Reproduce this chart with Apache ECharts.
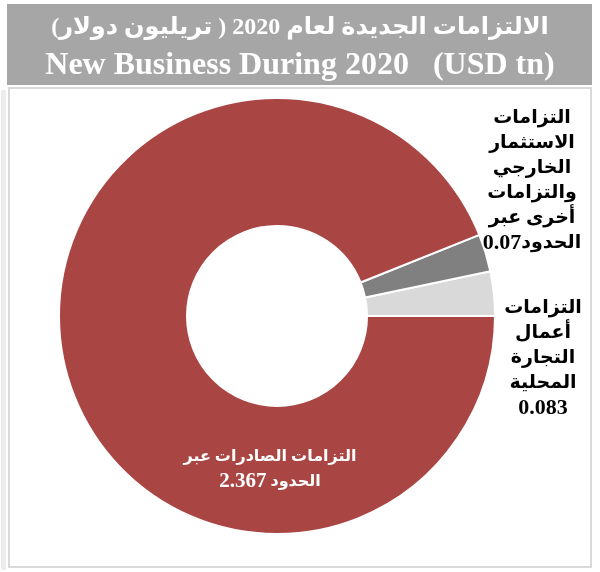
<!DOCTYPE html>
<html>
<head>
<meta charset="utf-8">
<script src="https://cdn.jsdelivr.net/npm/echarts@6/dist/echarts.min.js"></script>
<style>
html,body{margin:0;padding:0;background:#fff;}
#main{width:600px;height:572px;}
</style>
</head>
<body>
<div id="main"></div>
<script>
// ---- data ----
const titleAr = '\u202Bالالتزامات الجديدة لعام 2020 ( تريليون دولار)\u202C';
const titleEn = 'New Business During 2020   (USD tn)';
const categories = [
  'التزامات أعمال التجارة المحلية',
  'التزامات الاستثمار الخارجي والتزامات أخرى عبر الحدود',
  'التزامات الصادرات عبر الحدود'
];
const values = [0.083, 0.07, 2.367];
const labelHead = [
  'التزامات\nأعمال\nالتجارة\nالمحلية',
  'التزامات\nالاستثمار\nالخارجي\nوالتزامات\nأخرى عبر',
  'التزامات الصادرات عبر'
];
const labelTail = ['', 'الحدود', ' الحدود'];
const colors = ['#d9d9d9', '#808080', '#a94644'];

// ---- layout ----
const labelPos = [
  { x: 543, y: 358 },
  { x: 532, y: 181 },
  { x: 270, y: 469 }
];

const chart = echarts.init(document.getElementById('main'), null, { renderer: 'canvas' });
const serif = '"Liberation Serif", "DejaVu Sans", serif';

chart.setOption({
  animation: false,
  backgroundColor: '#ffffff',
  graphic: [
    { type: 'rect', z: -10, shape: { x: 7, y: 4, width: 585, height: 81 }, style: { fill: '#a6a6a6' } },
    { type: 'rect', z: -10, shape: { x: 9, y: 88, width: 582, height: 479 }, style: { fill: '#ffffff', stroke: '#d9d9d9', lineWidth: 2 } },
    { type: 'rect', z: -11, shape: { x: 1, y: 90, width: 5, height: 480 }, style: { fill: '#ececec' } }
  ],
  title: [
    {
      text: titleAr, left: 'center', top: 11,
      textStyle: { color: '#ffffff', fontSize: 24, fontWeight: 'bold', fontFamily: serif }
    },
    {
      text: titleEn, left: 'center', top: 45,
      textStyle: { color: '#ffffff', fontSize: 32, fontWeight: 'bold', fontFamily: serif }
    }
  ],
  series: [{
    type: 'pie',
    center: [277, 316],
    radius: [90, 218],
    startAngle: 0,
    clockwise: false,
    avoidLabelOverlap: false,
    itemStyle: { borderColor: '#ffffff', borderWidth: 2 },
    labelLine: { show: false },
    emphasis: { disabled: true },
    label: {
      show: true,
      position: 'outside',
      color: '#000',
      fontSize: 19,
      fontWeight: 'bold',
      lineHeight: 25,
      fontFamily: serif,
      align: 'center',
      formatter: p => labelHead[p.dataIndex] + '\n{n|' + p.value + '}' + labelTail[p.dataIndex],
      rich: {
        n: { fontSize: 22, fontWeight: 'bold', fontFamily: serif, lineHeight: 25 }
      }
    },
    labelLayout: p => ({
      x: labelPos[p.dataIndex].x,
      y: labelPos[p.dataIndex].y,
      align: 'center',
      verticalAlign: 'middle'
    }),
    data: values.map((v, i) => ({
      name: categories[i],
      value: v,
      itemStyle: { color: colors[i] },
      label: i === 2 ? {
        color: '#ffffff', fontWeight: 'bold', fontSize: 16, lineHeight: 25,
        rich: { n: { color: '#ffffff', fontSize: 21, fontWeight: 'bold', fontFamily: serif, lineHeight: 25 } }
      } : {}
    }))
  }]
});
</script>
</body>
</html>
